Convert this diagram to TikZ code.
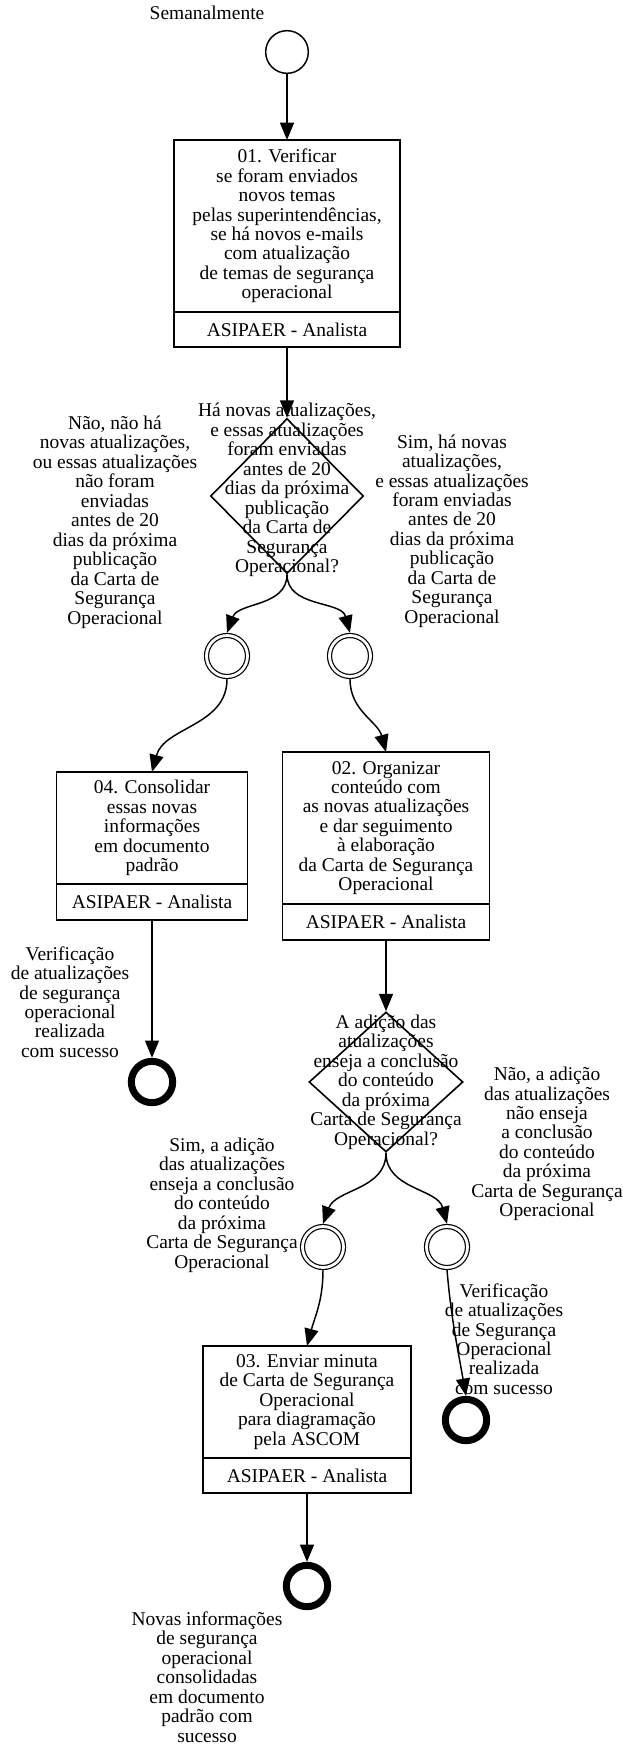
\documentclass[tikz,border=0pt]{standalone}
\usepackage{fontspec}
\setmainfont{Liberation Serif}
\usetikzlibrary{positioning,shapes.geometric,arrows.meta}

\begin{document}
\begin{tikzpicture}[x=0.75pt, y=-0.75pt,
  every node/.style={font=\fontsize{14.6}{14.6}\selectfont, align=center},
  task/.style={draw, line width=1.4pt, inner sep=0pt, outer sep=0pt},
  decision/.style={draw, diamond, line width=1.2pt, inner sep=0pt},
  start/.style={draw, circle, line width=1.1pt, minimum size=32pt},
  catch/.style={draw, circle, double, line width=0.9pt, double distance=2.1pt, minimum size=30.75pt, outer sep=2pt},
  stop/.style={draw, circle, line width=5.25pt, minimum size=31pt},
  flow/.style={-{Triangle[length=13pt,width=10.5pt]}, line width=1.1pt},
  lbl/.style={inner sep=0pt}]
  \useasboundingbox (0,0) rectangle (622,1744);

  \node[start] (ini) at (287,52) {};
  \node[lbl] (ini-lbl) at (207,13) {Semanalmente};

  \node[task, minimum width=169.5pt, minimum height=129pt] (t01) at (287,226) {01. Verificar\\se foram enviados\\novos temas\\pelas superintendências,\\se há novos e-mails\\com atualização\\de temas de segurança\\operacional};
  \node[task, minimum width=169.5pt, minimum height=26.25pt, below=0pt of t01] (t01r) {ASIPAER - Analista};

  \node[decision, minimum width=114.75pt, minimum height=116.25pt,
    label={[align=center, yshift=4.5pt]center:Há novas atualizações,\\e essas atualizações\\foram enviadas\\antes de 20\\dias da próxima\\publicação\\da Carta de\\Segurança\\Operacional?}] (d01) at (287,496) {};
  \node[lbl] (n01) at (115,522) {Não, não há\\novas atualizações,\\ou essas atualizações\\não foram\\enviadas\\antes de 20\\dias da próxima\\publicação\\da Carta de\\Segurança\\Operacional};
  \node[lbl] (s01) at (452,531) {Sim, há novas\\atualizações,\\e essas atualizações\\foram enviadas\\antes de 20\\dias da próxima\\publicação\\da Carta de\\Segurança\\Operacional};

  \node[catch] (c01n) at (227,656) {};
  \node[catch] (c01s) at (350,656) {};

  \node[task, minimum width=143.25pt, minimum height=84pt] (t04) at (152,828) {04. Consolidar\\essas novas\\informações\\em documento\\padrão};
  \node[task, minimum width=143.25pt, minimum height=27pt, below=0pt of t04] (t04r) {ASIPAER - Analista};

  \node[task, minimum width=155.25pt, minimum height=114pt] (t02) at (386,828) {02. Organizar\\conteúdo com\\as novas atualizações\\e dar seguimento\\à elaboração\\da Carta de Segurança\\Operacional};
  \node[task, minimum width=155.25pt, minimum height=27pt, below=0pt of t02] (t02r) {ASIPAER - Analista};

  \node[stop] (e01) at (152,1082) {};
  \node[lbl] (v01) at (70,1002) {Verificação\\de atualizações\\de segurança\\operacional\\realizada\\com sucesso};

  \node[decision, minimum width=115.5pt, minimum height=105pt,
    label={[align=center]center:A adição das\\atualizações\\enseja a conclusão\\do conteúdo\\da próxima\\Carta de Segurança\\Operacional?}] (d02) at (386,1082) {};
  \node[lbl] (n02) at (547,1144) {Não, a adição\\das atualizações\\não enseja\\a conclusão\\do conteúdo\\da próxima\\Carta de Segurança\\Operacional};
  \node[lbl] (s02) at (222,1205) {Sim, a adição\\das atualizações\\enseja a conclusão\\do conteúdo\\da próxima\\Carta de Segurança\\Operacional};

  \node[catch] (c02s) at (323,1247) {};
  \node[catch] (c02n) at (447,1247) {};

  \node[task, minimum width=156pt, minimum height=84pt] (t03) at (307,1402) {03. Enviar minuta\\de Carta de Segurança\\Operacional\\para diagramação\\pela ASCOM};
  \node[task, minimum width=156pt, minimum height=26.25pt, below=0pt of t03] (t03r) {ASIPAER - Analista};

  \node[stop] (e02) at (466,1420) {};
  \node[lbl] (v02) at (504,1339) {Verificação\\de atualizações\\de Segurança\\Operacional\\realizada\\com sucesso};

  \node[stop] (e03) at (307,1586) {};
  \node[lbl] (v03) at (207,1677) {Novas informações\\de segurança\\operacional\\consolidadas\\em documento\\padrão com\\sucesso};

  \draw[flow] (ini) -- (t01);
  \draw[flow] (t01r) -- (d01);
  \draw[flow] (d01.south) to[out=-90, in=70] (c01n.north);
  \draw[flow] (d01.south) to[out=-90, in=105] (c01s.north);
  \draw[flow] (c01n.south) to[out=-90, in=75] (t04.north);
  \draw[flow] (c01s.south) to[out=-90, in=105] (t02.north);
  \draw[flow] (t04r) -- (e01);
  \draw[flow] (t02r) -- (d02);
  \draw[flow] (d02.south) to[out=-90, in=70] (c02s.north);
  \draw[flow] (d02.south) to[out=-90, in=105] (c02n.north);
  \draw[flow] (c02s.south) to[out=-90, in=75] (t03.north);
  \draw[flow] (c02n.south) to[out=-85, in=100] (e02.north);
  \draw[flow] (t03r) -- (e03);
\end{tikzpicture}
\end{document}
